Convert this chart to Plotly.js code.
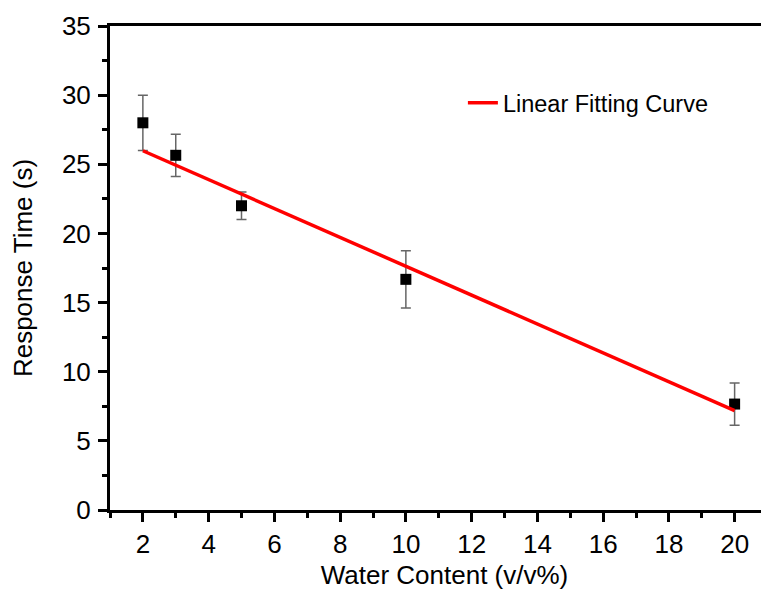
<!DOCTYPE html>
<html>
<head>
<meta charset="utf-8">
<script src="https://cdn.plot.ly/plotly-3.0.1.min.js"></script>
<style>html,body{margin:0;padding:0;background:#fff;overflow:hidden;width:761px;height:590px;}#chart{width:779px;height:590px;}</style>
</head>
<body>
<div id="chart"></div>
<script>
const waterContent = [2, 3, 5, 10, 20];
const responseTime = [28.0, 25.65, 22.0, 16.68, 7.66];
const responseErr = [2.0, 1.53, 1.0, 2.07, 1.53];
const fitX = [2, 20];
const fitY = [25.98, 7.18];
const xTickVals = [2, 4, 6, 8, 10, 12, 14, 16, 18, 20];
const yTickVals = [0, 5, 10, 15, 20, 25, 30, 35];

const FONT = 'Liberation Sans, Arial, Helvetica, sans-serif';

const traces = [
  {
    x: waterContent, y: responseTime, type: 'scatter', mode: 'markers',
    marker: {symbol: 'square', size: 11, color: '#000'},
    error_y: {type: 'data', array: responseErr, visible: true, color: '#666', thickness: 1.5, width: 5},
    showlegend: false, cliponaxis: false
  },
  {
    x: fitX, y: fitY, type: 'scatter', mode: 'lines',
    line: {color: '#ff0000', width: 3.5},
    name: 'Linear Fitting Curve'
  }
];

const layout = {
  width: 779, height: 590,
  margin: {l: 110, r: 0, t: 26, b: 80},
  paper_bgcolor: '#fff', plot_bgcolor: '#fff',
  font: {family: FONT, color: '#000'},
  showlegend: true,
  legend: {x: 0.5275, y: 0.841, xanchor: 'left', yanchor: 'middle', bgcolor: 'rgba(0,0,0,0)', font: {size: 23.5, family: FONT}},
  xaxis: {
    range: [1, 21.35], tickvals: xTickVals, ticktext: xTickVals.map(String),
    showgrid: false, zeroline: false, showline: true, linecolor: '#000', linewidth: 3, mirror: true,
    ticks: 'outside', ticklen: 9, tickwidth: 3, tickcolor: '#000',
    minor: {dtick: 1, tick0: 1, ticks: 'outside', ticklen: 5, tickwidth: 3, tickcolor: '#000', showgrid: false},
    tickfont: {size: 26, family: FONT},
    title: {text: 'Water Content (v/v%)', font: {size: 26, family: FONT}, standoff: 8}
  },
  yaxis: {
    range: [0, 35], tickvals: yTickVals, ticktext: yTickVals.map(String),
    showgrid: false, zeroline: false, showline: true, linecolor: '#000', linewidth: 3,
    ticks: 'outside', ticklen: 9, tickwidth: 3, tickcolor: '#000',
    minor: {dtick: 2.5, tick0: 0, ticks: 'outside', ticklen: 5, tickwidth: 3, tickcolor: '#000', showgrid: false},
    tickfont: {size: 26, family: FONT}, ticklabelstandoff: 2,
    title: {text: 'Response Time (s)', font: {size: 26, family: FONT}, standoff: 22}
  }
};

Plotly.newPlot('chart', traces, layout, {displayModeBar: false, staticPlot: true});
</script>
</body>
</html>
